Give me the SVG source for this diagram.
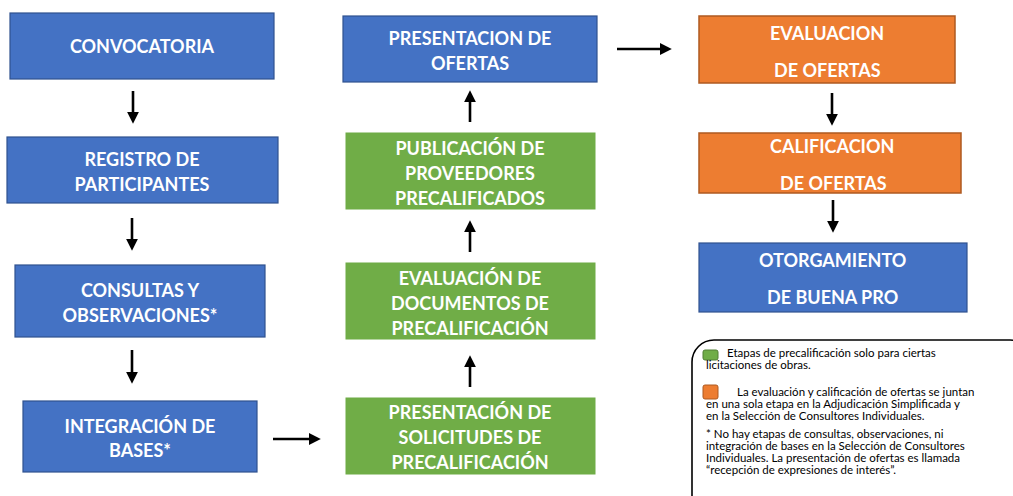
<svg xmlns="http://www.w3.org/2000/svg" width="1013" height="496" viewBox="0 0 1013 496">
<style>
.blue{fill:#4472C4;stroke:#2F528F;stroke-width:1.2}
.green{fill:#70AD47;stroke:#6FAC46;stroke-width:1}
.orange{fill:#ED7D31;stroke:#AE5A21;stroke-width:1.5}
.t{font-family:Lato,"Open Sans","Liberation Sans",sans-serif;font-weight:bold;font-size:18px;fill:#fff}
.c{text-anchor:middle}
.leg{font-family:Lato,"Open Sans","Liberation Sans",sans-serif;font-size:11.5px;fill:#000}
.arr{stroke:#000;stroke-width:2.6;fill:none;marker-end:url(#ah)}
</style>
<defs>
<marker id="ah" markerUnits="userSpaceOnUse" markerWidth="12" markerHeight="12" viewBox="0 0 10 10" refX="1" refY="5" orient="auto">
<path d="M0,0 L10,5 L0,10 Z" fill="#000"/>
</marker>
</defs>
<rect width="1013" height="496" fill="#fff"/>
<g id="convocatoria"><rect class="blue" x="10" y="13" width="264" height="66"/><text class="t c" x="142" y="53">CONVOCATORIA</text></g>
<g id="registro"><rect class="blue" x="7" y="137" width="271" height="66"/><text class="t c" x="142" y="166">REGISTRO DE</text><text class="t c" x="142" y="191">PARTICIPANTES</text></g>
<g id="consultas"><rect class="blue" x="15" y="265" width="250" height="72"/><text class="t c" x="140" y="297">CONSULTAS Y</text><text class="t c" x="140" y="322">OBSERVACIONES*</text></g>
<g id="integracion"><rect class="blue" x="23" y="401" width="234" height="71"/><text class="t c" x="140" y="433">INTEGRACIÓN DE</text><text class="t c" x="140" y="457">BASES*</text></g>
<g id="presentacion-solicitudes"><rect class="green" x="346" y="398" width="249" height="76"/><text class="t c" x="470" y="419">PRESENTACIÓN DE</text><text class="t c" x="470" y="444">SOLICITUDES DE</text><text class="t c" x="470" y="469">PRECALIFICACIÓN</text></g>
<g id="evaluacion-documentos"><rect class="green" x="346" y="263" width="249" height="76"/><text class="t c" x="470" y="285">EVALUACIÓN DE</text><text class="t c" x="470" y="310">DOCUMENTOS DE</text><text class="t c" x="470" y="335">PRECALIFICACIÓN</text></g>
<g id="publicacion"><rect class="green" x="346" y="133" width="249" height="76"/><text class="t c" x="470" y="155">PUBLICACIÓN DE</text><text class="t c" x="470" y="180">PROVEEDORES</text><text class="t c" x="470" y="205">PRECALIFICADOS</text></g>
<g id="presentacion-ofertas"><rect class="blue" x="343" y="16" width="254" height="66"/><text class="t c" x="470" y="45">PRESENTACION DE</text><text class="t c" x="470" y="70">OFERTAS</text></g>
<g id="evaluacion-ofertas"><rect class="orange" x="699" y="16" width="256" height="67"/><text class="t" x="770" y="40">EVALUACION</text><text class="t" x="774" y="77">DE OFERTAS</text></g>
<g id="calificacion"><rect class="orange" x="699" y="133" width="262" height="60"/><text class="t" x="770" y="153">CALIFICACION</text><text class="t" x="780" y="190">DE OFERTAS</text></g>
<g id="otorgamiento"><rect class="blue" x="699" y="243" width="268" height="69"/><text class="t" x="759" y="267">OTORGAMIENTO</text><text class="t" x="767" y="304">DE BUENA PRO</text></g>
<g id="connectors">
<line class="arr" x1="133" y1="91" x2="133" y2="113"/>
<line class="arr" x1="132" y1="218" x2="132" y2="240"/>
<line class="arr" x1="132" y1="350" x2="132" y2="373"/>
<line class="arr" x1="273" y1="439" x2="310" y2="439"/>
<line class="arr" x1="470" y1="387" x2="470" y2="366"/>
<line class="arr" x1="470" y1="252" x2="470" y2="231"/>
<line class="arr" x1="470" y1="122" x2="470" y2="101"/>
<line class="arr" x1="617" y1="49" x2="661" y2="49"/>
<line class="arr" x1="832" y1="93" x2="832" y2="115"/>
<line class="arr" x1="833" y1="200" x2="833" y2="222"/>
</g>
<g id="legend">
<rect x="692" y="340" width="340" height="180" rx="22" ry="22" fill="none" stroke="#000" stroke-width="1.6"/>
<rect x="703" y="350" width="15" height="10" rx="2" fill="#70AD47" stroke="#507E32" stroke-width="1"/>
<rect x="703" y="385" width="15" height="14" rx="2" fill="#ED7D31" stroke="#AE5A21" stroke-width="1"/>
<text class="leg" x="727" y="357">Etapas de precalificación solo para ciertas</text>
<text class="leg" x="706" y="369">licitaciones de obras.</text>
<text class="leg" x="737" y="396">La evaluación y calificación de ofertas se juntan</text>
<text class="leg" x="706" y="408">en una sola etapa en la Adjudicación Simplificada y</text>
<text class="leg" x="706" y="420">en la Selección de Consultores Individuales.</text>
<text class="leg" x="706" y="438">* No hay etapas de consultas, observaciones, ni</text>
<text class="leg" x="706" y="450">integración de bases en la Selección de Consultores</text>
<text class="leg" x="706" y="462">Individuales. La presentación de ofertas es llamada</text>
<text class="leg" x="706" y="474">“recepción de expresiones de interés”.</text>
</g>
</svg>
